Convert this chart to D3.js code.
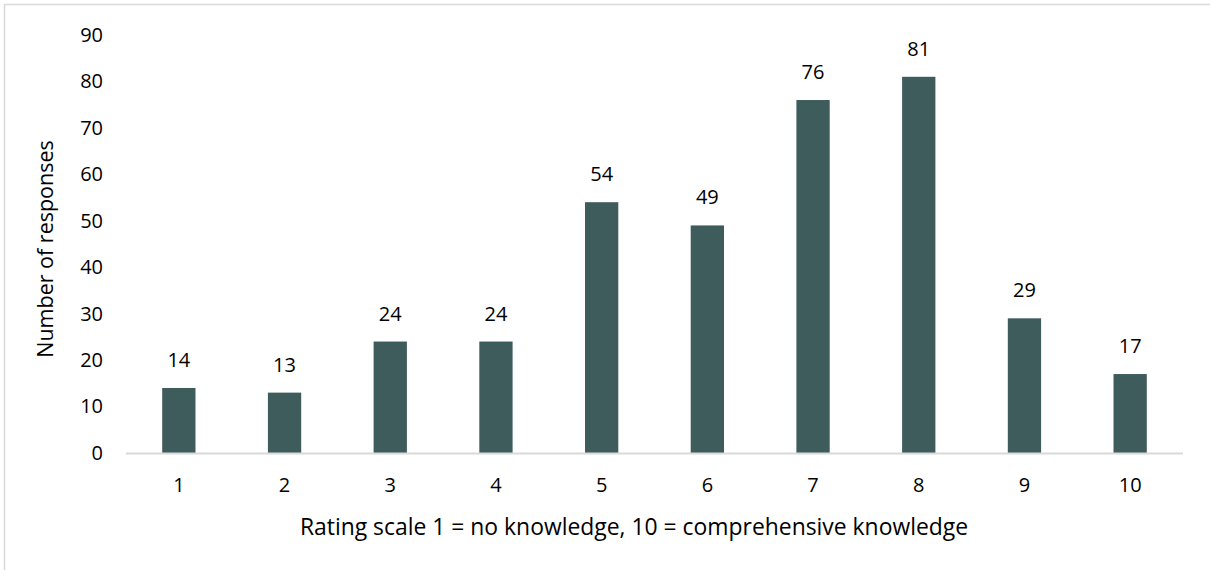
<!DOCTYPE html>
<html>
<head>
<meta charset="utf-8">
<script src="https://cdn.jsdelivr.net/npm/d3@7"></script>
<style>
  body { margin: 0; background: #fff; }
  text { font-family: "Open Sans", "Noto Sans", sans-serif; fill: #000; }
</style>
</head>
<body>
<div id="chart"></div>
<script>
var categories = ["1", "2", "3", "4", "5", "6", "7", "8", "9", "10"];
var responses = [14, 13, 24, 24, 54, 49, 76, 81, 29, 17];
var yTicks = [0, 10, 20, 30, 40, 50, 60, 70, 80, 90];

var svgW = 1210, svgH = 570;
var margin = { top: 35, right: 27, bottom: 117, left: 126 },
    w = svgW - margin.left - margin.right,
    h = svgH - margin.top - margin.bottom;

var svg = d3.select("#chart").append("svg").attr("width", svgW).attr("height", svgH);

// chart frame (only top/left edge visible in the picture)
svg.append("rect").attr("x", 4.5).attr("y", 4.5).attr("width", svgW + 20).attr("height", svgH + 20)
  .attr("fill", "none").attr("stroke", "#d9d9d9").attr("stroke-width", 1.5);

var g = svg.append("g").attr("transform", "translate(" + margin.left + "," + margin.top + ")");

var xScale = d3.scaleBand().domain(categories).range([0, w]).paddingInner(0.685).paddingOuter(0.3425);
var yScale = d3.scaleLinear().domain([0, 90]).range([h, 0]);

var yAxis = d3.axisLeft(yScale).tickValues(yTicks).tickSize(0).tickPadding(23);
g.append("g").attr("class", "y-axis").call(yAxis)
  .call(function (s) { s.select(".domain").remove(); })
  .selectAll("text").attr("font-size", "20px").attr("font-family", "'Open Sans', sans-serif");

g.selectAll(".bar").data(responses).enter().append("rect").attr("class", "bar")
  .attr("x", function (d, i) { return xScale(categories[i]); })
  .attr("y", function (d) { return yScale(d); })
  .attr("width", xScale.bandwidth())
  .attr("height", function (d) { return h - yScale(d); })
  .attr("fill", "#3e5c5c");

g.append("line").attr("x1", 0).attr("x2", w).attr("y1", h + 0.5).attr("y2", h + 0.5)
  .attr("stroke", "#d9d9d9").attr("stroke-width", 2);

var xAxis = d3.axisBottom(xScale).tickSize(0).tickPadding(25);
g.append("g").attr("class", "x-axis").attr("transform", "translate(0," + h + ")").call(xAxis)
  .call(function (s) { s.select(".domain").remove(); })
  .selectAll("text").attr("font-size", "20px").attr("font-family", "'Open Sans', sans-serif");

g.selectAll(".lbl").data(responses).enter().append("text").attr("class", "lbl")
  .attr("x", function (d, i) { return xScale(categories[i]) + xScale.bandwidth() / 2; })
  .attr("y", function (d) { return yScale(d) - 21; })
  .attr("text-anchor", "middle").attr("font-size", "20px")
  .text(function (d) { return d; });

svg.append("text").attr("x", 634).attr("y", 535)
  .attr("text-anchor", "middle").attr("font-size", "22.9px")
  .text("Rating scale 1 = no knowledge, 10 = comprehensive knowledge");

svg.append("text").attr("transform", "translate(45,249) rotate(-90)")
  .attr("text-anchor", "middle").attr("dy", "0.35em").attr("font-size", "21.5px")
  .text("Number of responses");
</script>
</body>
</html>
